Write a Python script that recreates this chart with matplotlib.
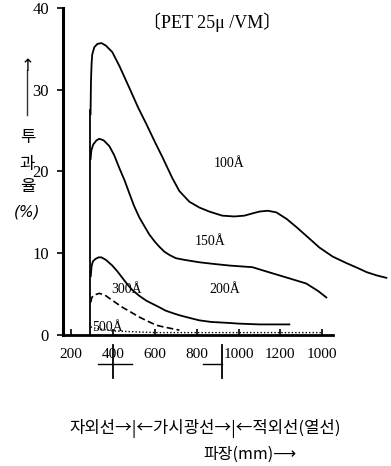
import numpy as np
import matplotlib.pyplot as plt

plt.rcParams['font.family'] = ['Liberation Serif', 'Noto Sans CJK KR', 'DejaVu Sans']

# wavelength (nm) vs transmittance (%)
wl_100 = [292, 294, 297, 300, 310, 325, 344, 365, 396, 430, 478, 520, 559, 600, 635, 683, 717,
          765, 812, 860, 922, 980, 1028, 1070, 1100, 1140, 1181, 1230, 1277, 1330, 1387, 1450,
          1516, 1570, 1612, 1660, 1707]
tr_100 = [27.0, 31.0, 33.2, 34.3, 35.2, 35.6, 35.7, 35.4, 34.6, 32.9, 30.2, 27.8, 25.8, 23.6,
          21.8, 19.2, 17.6, 16.3, 15.6, 15.1, 14.6, 14.5, 14.6, 14.9, 15.1, 15.2, 15.0, 14.2,
          13.2, 12.0, 10.7, 9.6, 8.8, 8.2, 7.7, 7.3, 7.0]

wl_150 = [292, 296, 305, 320, 334, 355, 382, 405, 430, 455, 478, 500, 525, 550, 573, 600, 621,
          645, 669, 700, 740, 812, 880, 956, 1010, 1066, 1130, 1195, 1260, 1324, 1380, 1420]
tr_150 = [21.5, 22.6, 23.3, 23.8, 24.0, 23.8, 23.1, 22.0, 20.4, 18.9, 17.3, 15.8, 14.4, 13.3,
          12.3, 11.4, 10.8, 10.2, 9.8, 9.4, 9.2, 8.9, 8.7, 8.5, 8.4, 8.3, 7.8, 7.3, 6.8, 6.3,
          5.4, 4.6]

wl_200 = [293, 297, 303, 315, 330, 344, 365, 396, 420, 444, 468, 492, 525, 559, 590, 621, 650,
          683, 720, 765, 812, 870, 942, 1000, 1100, 1243]
tr_200 = [7.2, 8.4, 9.0, 9.3, 9.5, 9.5, 9.2, 8.5, 7.8, 7.0, 6.2, 5.5, 4.8, 4.2, 3.8, 3.4, 3.0,
          2.7, 2.4, 2.1, 1.8, 1.6, 1.5, 1.4, 1.3, 1.3]

wl_300 = [293, 298, 310, 334, 360, 382, 410, 444, 485, 525, 565, 607, 640, 669, 717]
tr_300 = [4.0, 4.6, 4.9, 5.1, 4.9, 4.5, 4.0, 3.4, 2.8, 2.2, 1.7, 1.2, 1.0, 0.85, 0.6]

wl_500 = [293, 320, 400, 600, 900, 1200, 1400]
tr_500 = [1.0, 0.8, 0.5, 0.3, 0.3, 0.3, 0.3]

xticks = [200, 400, 600, 800, 1000, 1200, 1400]
xtick_labels = ['200', '400', '600', '800', '1000', '1200', '1000']
yticks = [0, 10, 20, 30, 40]

uv_edge = 290
vis_start = 400
ir_start = 920

fig = plt.figure(figsize=(3.91, 4.66), dpi=100)
ax = fig.add_axes([0.161, 0.281, 0.834, 0.702])

k = dict(color='black', lw=1.3)
ax.plot(wl_100, tr_100, **k)
ax.plot(wl_150, tr_150, **k)
ax.plot(wl_200, tr_200, **k)
ax.plot(wl_300, tr_300, color='black', lw=1.2, ls=(0, (4, 2)))
ax.plot(wl_500, tr_500, color='black', lw=1.0, ls=(0, (1, 1.5)))

ax.plot([uv_edge, uv_edge], [0, 27.5], color='black', lw=1.3)

ax.set_xlim(160, 1720)
ax.set_ylim(0, 40)
for s in ['top', 'right']:
    ax.spines[s].set_visible(False)
ax.spines['left'].set_linewidth(2.2)
ax.spines['bottom'].set_linewidth(2.0)
ax.spines['bottom'].set_bounds(160, 1450)
ax.set_xticks(xticks)
ax.set_xticklabels(xtick_labels, fontsize=11)
ax.set_yticks(yticks)
ax.set_yticklabels([str(v) for v in yticks], fontsize=12)
ax.tick_params(axis='x', direction='in', length=4, width=1.2, pad=9)
ax.tick_params(axis='y', direction='out', length=4, width=1.2, pad=6)

ax.text(0.457, 0.957, '〔PET 25μ /VM〕', transform=ax.transAxes, ha='center', va='center', fontsize=13)

ax.text(880, 20.5, '100Å', fontsize=10)
ax.text(790, 11.0, '150Å', fontsize=10)
ax.text(860, 5.2, '200Å', fontsize=10)
ax.text(390, 5.2, '300Å', fontsize=10)
ax.text(300, 0.5, '500Å', fontsize=10)

# region markers under the x axis
for xm in [vis_start, ir_start]:
    ax.plot([xm, xm], [-1.2, -5.2], color='black', lw=1.3, clip_on=False)
ax.plot([vis_start - 70, vis_start + 90], [-3.6, -3.6], color='black', lw=1.0, clip_on=False)
ax.plot([ir_start - 90, ir_start], [-3.6, -3.6], color='black', lw=1.0, clip_on=False)

# y label
fig.add_artist(plt.Line2D([0.07, 0.07], [0.753, 0.85], color='#333333', lw=1.0))
fig.text(0.07, 0.858, '↑', ha='center', va='center', fontsize=12, family=['DejaVu Sans'])
for ch, yy in [('투', 0.706), ('과', 0.648), ('율', 0.599)]:
    fig.text(0.07, yy, ch, ha='center', va='center', fontsize=12, family=['Noto Sans CJK KR'])
fig.text(0.07, 0.545, '(%)', ha='center', va='center', fontsize=11, style='italic',
         family=['DejaVu Sans'])

fig.text(0.525, 0.081, '자외선→|←가시광선→|←적외선(열선)', ha='center', va='center', fontsize=12,
         family=['Noto Sans CJK KR'])
fig.text(0.64, 0.025, '파장(mm)⟶', ha='center', va='center', fontsize=11.5,
         family=['Noto Sans CJK KR', 'DejaVu Sans'])

fig.savefig('out.png', dpi=100)
